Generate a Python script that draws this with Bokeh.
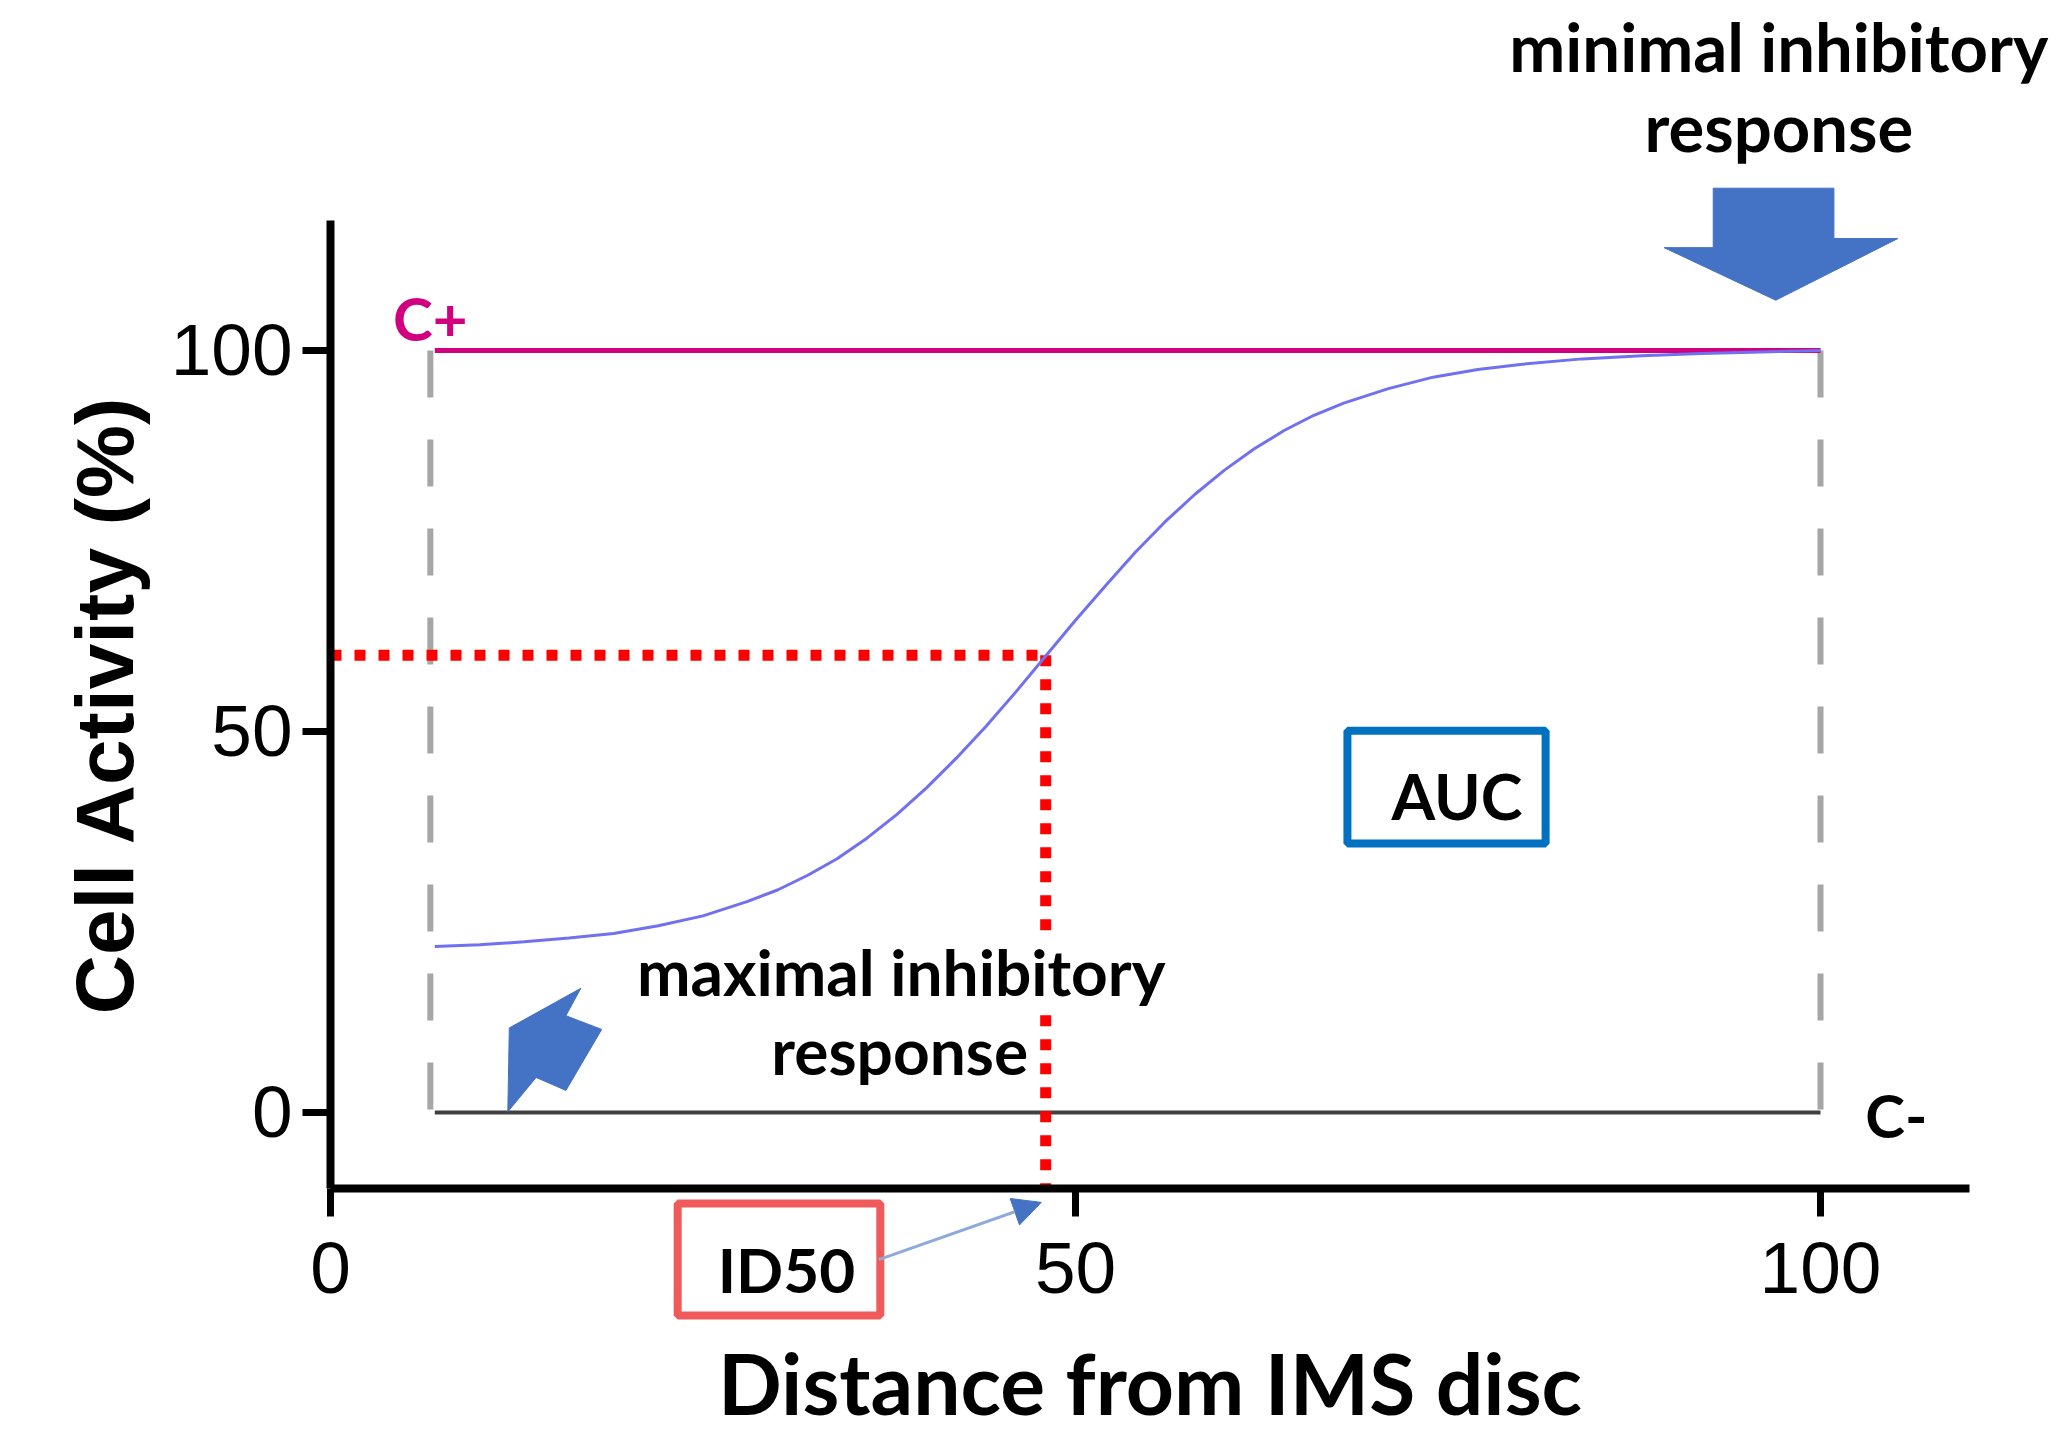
from bokeh.plotting import figure
from bokeh.models import Range1d, FixedTicker, Arrow, NormalHead
from bokeh.core.properties import value
from bokeh.embed import file_html
from bokeh.resources import INLINE

# ---------------- data ----------------
x_ticks = [0, 50, 100]
y_ticks = [0, 50, 100]

curve_x = [7, 10, 13, 16, 19, 22, 25, 28, 30, 32, 34, 36, 38, 40, 42, 44, 46, 48,
           50, 52, 54, 56, 58, 60, 62, 64, 66, 68, 71, 74, 77, 80, 84, 88, 92, 96, 100]
curve_y = [21.8, 22.0, 22.4, 22.9, 23.5, 24.5, 25.8, 27.7, 29.2, 31.1, 33.3, 36.0,
           39.1, 42.6, 46.5, 50.7, 55.2, 59.9, 64.6, 69.1, 73.5, 77.5, 81.1, 84.3,
           87.1, 89.5, 91.5, 93.1, 95.0, 96.5, 97.5, 98.2, 98.9, 99.3, 99.6, 99.8, 100.0]

c_pos_x = [7.0, 100.0]
c_pos_y = [100.0, 100.0]
c_neg_x = [7.0, 100.0]
c_neg_y = [0.0, 0.0]
bound_x = [6.7, 100.0]          # dashed limits
bound_top = [100.0, 100.0]
bound_bottom = [0.0, 0.0]

id50_x = 48.0
id50_y = 60.0
axis_x_min, axis_x_max = 0, 110
axis_y_min, axis_y_max = -10, 117

# big "minimal" arrow outline (data units)
min_arrow_x = [92.8, 100.9, 100.9, 105.2, 97.0, 89.5, 92.8]
min_arrow_y = [121.3, 121.3, 114.7, 114.7, 106.6, 113.5, 113.5]
# small "maximal" arrow outline
max_arrow_x = [11.9, 12.0, 16.8, 15.8, 18.2, 15.8, 13.8]
max_arrow_y = [0.1, 11.1, 16.3, 12.7, 10.9, 2.9, 4.6]

# ---------------- figure ----------------
p = figure(width=2059, height=1443,
           x_range=Range1d(-22.148, 116.04), y_range=Range1d(-43.44, 145.932),
           output_backend="svg", toolbar_location=None, min_border=0)
p.outline_line_color = None
p.grid.visible = False
p.background_fill_color = "white"

BLUE = "#4472C4"
MAG = "#d1007f"

# axes
for ax, tk in ((p.xaxis[0], x_ticks), (p.yaxis[0], y_ticks)):
    ax.ticker = FixedTicker(ticks=tk)
    ax.axis_line_width = 8
    ax.axis_line_color = "black"
    ax.major_tick_line_width = 7
    ax.major_tick_in = 0
    ax.major_tick_out = 28
    ax.minor_tick_line_color = None
    ax.major_label_text_font = "Liberation Sans"
    ax.major_label_text_font_size = "73px"
    ax.major_label_text_color = "black"
    ax.axis_label_text_font_style = "bold"
    ax.axis_label_text_color = "black"

p.xaxis.fixed_location = axis_y_min
p.yaxis.fixed_location = axis_x_min
p.xaxis.bounds = (axis_x_min, axis_x_max)
p.yaxis.bounds = (axis_y_min, axis_y_max)
p.xaxis.major_label_standoff = 26
p.yaxis.major_label_standoff = 10
p.xaxis.axis_label = "Distance from IMS disc"
p.xaxis.axis_label_text_font = "Lato"
p.xaxis.axis_label_text_font_size = "84px"
p.xaxis.axis_label_standoff = 36
p.yaxis.axis_label = "Cell Activity (%)"
p.yaxis.axis_label_text_font = "Liberation Sans"
p.yaxis.axis_label_text_font_size = "82px"
p.yaxis.axis_label_standoff = 18

# dashed limits
p.segment(x0=bound_x, y0=bound_top, x1=bound_x, y1=bound_bottom,
          line_color="#a6a6a6", line_width=6, line_dash="47 42")
# C- line
p.line(c_neg_x, c_neg_y, line_color="#404040", line_width=4)
# C+ line
p.line(c_pos_x, c_pos_y, line_color=MAG, line_width=5)

# ID50 red dotted
p.line([axis_x_min, id50_x], [id50_y, id50_y], line_color="red", line_width=11,
       line_dash="11 13")
p.line([id50_x, id50_x], [id50_y, axis_y_min], line_color="red", line_width=11,
       line_dash="11 13")

# arrows
p.patch(min_arrow_x, min_arrow_y, fill_color=BLUE, line_color=BLUE, line_width=1)
p.patch(max_arrow_x, max_arrow_y, fill_color=BLUE, line_color=BLUE, line_width=1)

LATO = value("Lato")
# texts
p.text(x=[38.3], y=[18.5], text=["maximal inhibitory"], text_font=LATO,
       text_font_style="bold", text_font_size="64px", text_align="center",
       text_baseline="middle", background_fill_color="white")
p.text(x=[38.2], y=[8.1], text=["response"], text_font=LATO,
       text_font_style="bold", text_font_size="64px", text_align="center",
       text_baseline="middle")

# curve (drawn above the text background)
p.line(curve_x, curve_y, line_color="#7070f0", line_width=3)

p.text(x=[97.2], y=[140.0], text=["minimal inhibitory"], text_font=LATO,
       text_font_style="bold", text_font_size="67px", text_align="center",
       text_baseline="middle")
p.text(x=[97.2], y=[129.4], text=["response"], text_font=LATO,
       text_font_style="bold", text_font_size="67px", text_align="center",
       text_baseline="middle")
p.text(x=[4.2], y=[104.3], text=["C+"], text_font=LATO, text_font_style="bold",
       text_font_size="60px", text_align="left", text_baseline="middle",
       text_color=MAG)
p.text(x=[103.0], y=[-0.3], text=["C-"], text_font=LATO, text_font_style="bold",
       text_font_size="60px", text_align="left", text_baseline="middle",
       text_color="black")

# AUC box
p.rect(x=[74.9], y=[42.7], width=[13.3], height=[14.8], fill_color=None,
       line_color="#0070C0", line_width=8)
p.text(x=[75.6], y=[41.6], text=["AUC"], text_font=LATO, text_font_style="bold",
       text_font_size="63px", text_align="center", text_baseline="middle")

# ID50 box
p.rect(x=[30.1], y=[-19.3], width=[13.6], height=[14.7], fill_color=None,
       line_color="#f15a5a", line_width=8)
p.text(x=[30.6], y=[-20.6], text=["ID50"], text_font=LATO, text_font_style="bold",
       text_font_size="62px", text_align="center", text_baseline="middle")
p.add_layout(Arrow(end=NormalHead(size=28, fill_color=BLUE, line_color=BLUE),
                   x_start=36.8, y_start=-19.3, x_end=47.7, y_end=-11.8,
                   line_color="#8eaadb", line_width=3))

open("out.html", "w").write(file_html(p, INLINE))
